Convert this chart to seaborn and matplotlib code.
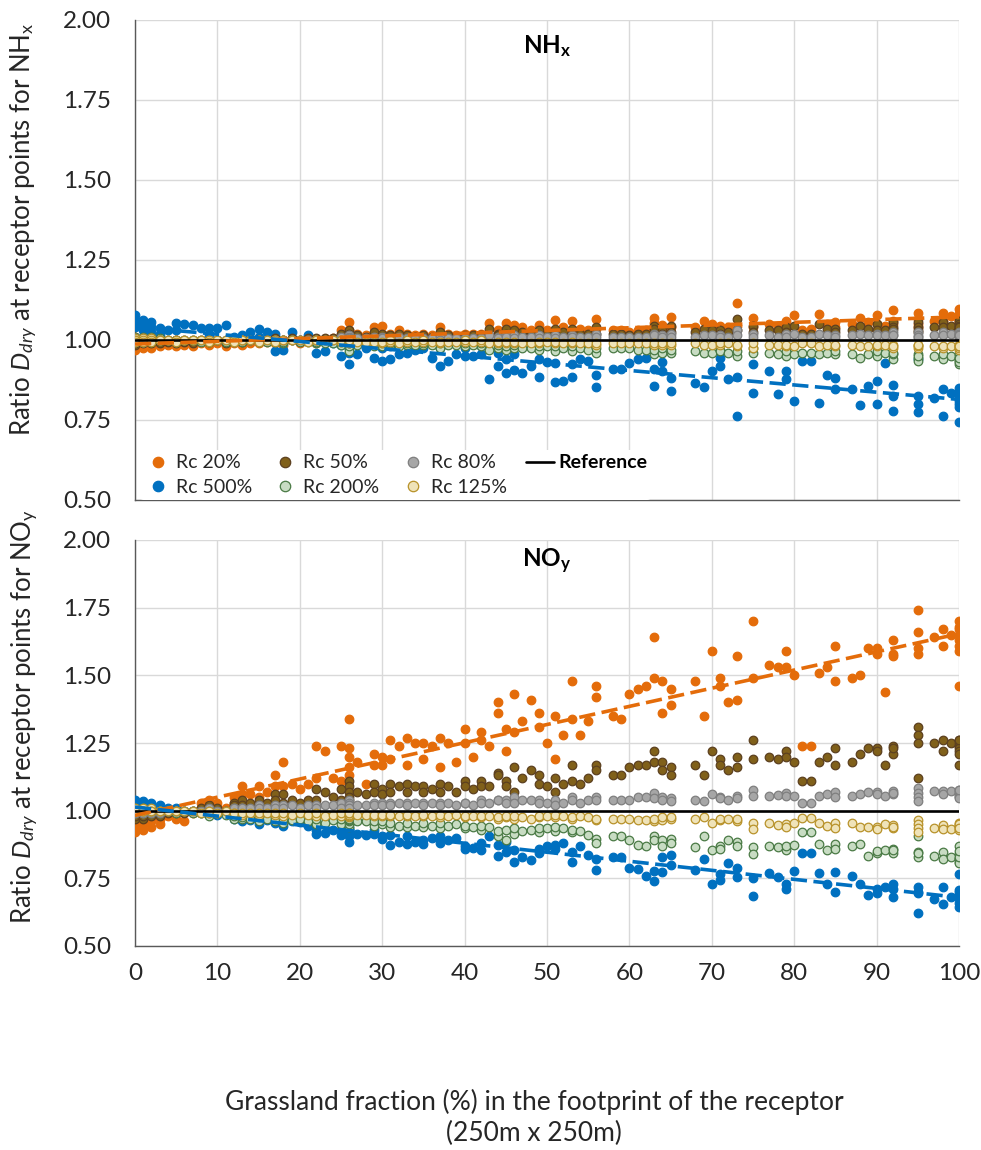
"""Dry deposition ratio vs grassland fraction, NHx and NOy panels."""

import matplotlib
matplotlib.use("Agg")
import matplotlib.pyplot as plt
from matplotlib.lines import Line2D
from matplotlib.ticker import FormatStrFormatter
import numpy as np
import pandas as pd
import seaborn as sns

# ---------------------------------------------------------------------------
# Data: one entry per receptor point
# ---------------------------------------------------------------------------

grass_pct = [
    0, 0, 0, 0, 1, 1, 1, 2, 2, 2,
    3, 3, 4, 5, 5, 6, 7, 8, 9, 9,
    10, 11, 12, 12, 13, 13, 14, 15, 15, 16,
    17, 17, 18, 18, 19, 20, 21, 22, 22, 23,
    24, 25, 25, 26, 26, 26, 26, 26, 27, 28,
    29, 29, 30, 30, 31, 31, 32, 33, 33, 34,
    35, 35, 36, 37, 37, 38, 39, 40, 40, 41,
    42, 42, 43, 44, 44, 45, 45, 46, 46, 47,
    48, 49, 49, 50, 51, 51, 52, 53, 53, 54,
    55, 56, 56, 58, 59, 60, 61, 62, 63, 63,
    64, 64, 65, 65, 68, 69, 70, 71, 71, 72,
    73, 73, 75, 75, 77, 78, 79, 79, 80, 81,
    82, 83, 84, 85, 85, 87, 88, 89, 90, 90,
    91, 92, 92, 95, 95, 95, 97, 98, 98, 99,
    100, 100, 100, 100, 100, 100, 100, 100, 95, 92,
]

# NHx
nhx_rc20 = [
    0.97, 0.98, 0.99, 1.00, 0.975, 0.985, 1.00, 0.975, 0.99, 1.00,
    0.98, 0.99, 0.985, 0.98, 0.99, 0.985, 0.98, 0.99, 0.985, 0.995,
    0.99, 0.98, 1.00, 0.99, 1.00, 0.985, 0.99, 1.00, 0.99, 0.995,
    0.99, 1.00, 0.985, 0.995, 1.00, 0.99, 1.00, 1.00, 0.99, 1.00,
    1.005, 1.03, 1.00, 1.057, 1.03, 1.01, 1.00, 1.02, 1.02, 1.015,
    1.04, 1.01, 1.044, 1.02, 1.02, 1.00, 1.03, 1.02, 1.01, 1.015,
    1.02, 1.005, 1.015, 1.04, 1.01, 1.02, 1.015, 1.02, 1.01, 1.02,
    1.02, 1.01, 1.054, 1.03, 1.02, 1.054, 1.03, 1.046, 1.02, 1.04,
    1.03, 1.046, 1.025, 1.03, 1.062, 1.03, 1.04, 1.06, 1.03, 1.035,
    1.03, 1.067, 1.035, 1.03, 1.03, 1.025, 1.03, 1.03, 1.07, 1.054,
    1.046, 1.03, 1.073, 1.04, 1.04, 1.06, 1.05, 1.045, 1.035, 1.04,
    1.115, 1.045, 1.07, 1.04, 1.05, 1.045, 1.06, 1.04, 1.077, 1.03,
    1.035, 1.08, 1.05, 1.056, 1.04, 1.05, 1.07, 1.055, 1.077, 1.05,
    1.045, 1.094, 1.06, 1.085, 1.065, 1.05, 1.06, 1.085, 1.06, 1.075,
    1.096, 1.08, 1.07, 1.06, 1.055, 1.05, 1.045, 1.065, 1.04, 1.05,
]
nhx_rc50 = [
    0.985, 0.99, 1.00, 1.01, 0.99, 1.00, 1.005, 0.99, 1.00, 1.005,
    0.99, 1.00, 0.995, 0.99, 1.00, 0.995, 0.99, 1.00, 0.995, 1.00,
    1.00, 0.99, 1.00, 1.00, 1.00, 0.995, 1.00, 1.00, 1.00, 1.00,
    1.00, 1.005, 0.995, 1.00, 1.005, 1.00, 1.005, 1.005, 1.00, 1.005,
    1.005, 1.02, 1.00, 1.03, 1.02, 1.01, 1.00, 1.01, 1.015, 1.01,
    1.025, 1.005, 1.02, 1.01, 1.015, 1.005, 1.02, 1.015, 1.005, 1.01,
    1.015, 1.005, 1.01, 1.025, 1.005, 1.015, 1.01, 1.015, 1.005, 1.015,
    1.015, 1.005, 1.035, 1.02, 1.015, 1.035, 1.02, 1.03, 1.015, 1.025,
    1.02, 1.03, 1.015, 1.02, 1.035, 1.02, 1.025, 1.035, 1.02, 1.02,
    1.02, 1.04, 1.02, 1.02, 1.02, 1.015, 1.02, 1.02, 1.045, 1.035,
    1.03, 1.02, 1.045, 1.025, 1.025, 1.035, 1.03, 1.03, 1.02, 1.025,
    1.065, 1.03, 1.045, 1.025, 1.03, 1.03, 1.04, 1.025, 1.045, 1.02,
    1.02, 1.05, 1.035, 1.035, 1.025, 1.03, 1.045, 1.035, 1.05, 1.03,
    1.03, 1.055, 1.04, 1.055, 1.04, 1.03, 1.04, 1.055, 1.04, 1.045,
    1.06, 1.05, 1.045, 1.04, 1.035, 1.03, 1.03, 1.04, 1.025, 1.035,
]
nhx_rc80 = [
    0.995, 1.00, 1.00, 1.005, 0.995, 1.00, 1.005, 1.00, 1.00, 1.005,
    1.00, 1.00, 1.00, 1.00, 1.00, 1.00, 1.00, 1.00, 1.00, 1.00,
    1.00, 1.00, 1.00, 1.00, 1.00, 1.00, 1.00, 1.00, 1.00, 1.00,
    1.00, 1.00, 1.00, 1.00, 1.00, 1.00, 1.00, 1.00, 1.00, 1.00,
    1.00, 1.01, 1.00, 1.015, 1.01, 1.005, 1.00, 1.005, 1.005, 1.005,
    1.01, 1.00, 1.01, 1.005, 1.005, 1.00, 1.01, 1.005, 1.00, 1.005,
    1.005, 1.00, 1.005, 1.01, 1.00, 1.005, 1.005, 1.005, 1.00, 1.005,
    1.005, 1.00, 1.015, 1.01, 1.005, 1.015, 1.01, 1.015, 1.005, 1.01,
    1.01, 1.015, 1.005, 1.01, 1.015, 1.005, 1.01, 1.015, 1.01, 1.01,
    1.01, 1.02, 1.01, 1.01, 1.01, 1.01, 1.01, 1.01, 1.02, 1.015,
    1.015, 1.01, 1.02, 1.01, 1.01, 1.015, 1.015, 1.015, 1.01, 1.01,
    1.03, 1.015, 1.02, 1.01, 1.015, 1.01, 1.02, 1.01, 1.02, 1.01,
    1.01, 1.02, 1.015, 1.015, 1.01, 1.015, 1.02, 1.015, 1.02, 1.015,
    1.015, 1.025, 1.015, 1.025, 1.015, 1.01, 1.015, 1.025, 1.015, 1.02,
    1.025, 1.02, 1.02, 1.015, 1.015, 1.01, 1.01, 1.015, 1.01, 1.015,
]
nhx_rc125 = [
    1.005, 1.00, 1.00, 0.995, 1.005, 1.00, 0.995, 1.005, 1.00, 0.995,
    1.00, 1.00, 1.00, 1.00, 0.995, 1.00, 1.00, 1.00, 1.00, 0.995,
    1.00, 1.00, 1.00, 0.995, 1.00, 1.00, 1.00, 1.00, 0.995, 1.00,
    1.00, 0.995, 1.00, 1.00, 1.00, 1.00, 0.995, 1.00, 1.00, 1.00,
    1.00, 0.995, 1.00, 0.99, 0.995, 1.00, 1.00, 1.00, 0.995, 0.995,
    0.99, 0.995, 0.99, 0.995, 0.995, 1.00, 0.99, 0.995, 1.00, 0.995,
    0.995, 1.00, 0.995, 0.99, 0.995, 0.995, 0.995, 0.995, 1.00, 0.995,
    0.995, 1.00, 0.99, 0.99, 0.995, 0.99, 0.995, 0.99, 0.995, 0.99,
    0.99, 0.99, 0.995, 0.995, 0.99, 0.995, 0.99, 0.99, 0.995, 0.99,
    0.99, 0.985, 0.99, 0.99, 0.99, 0.99, 0.99, 0.99, 0.985, 0.99,
    0.985, 0.99, 0.985, 0.99, 0.99, 0.985, 0.985, 0.985, 0.99, 0.99,
    0.98, 0.985, 0.975, 0.99, 0.985, 0.985, 0.98, 0.985, 0.98, 0.99,
    0.99, 0.98, 0.985, 0.98, 0.985, 0.985, 0.98, 0.98, 0.98, 0.985,
    0.985, 0.975, 0.985, 0.975, 0.98, 0.985, 0.98, 0.975, 0.98, 0.98,
    0.975, 0.97, 0.975, 0.98, 0.98, 0.985, 0.985, 0.98, 0.985, 0.98,
]
nhx_rc200 = [
    1.01, 1.005, 1.00, 0.995, 1.01, 1.00, 0.995, 1.01, 1.00, 0.995,
    1.005, 1.00, 1.00, 1.00, 0.995, 1.00, 1.00, 0.995, 1.00, 0.995,
    1.00, 0.995, 1.00, 0.995, 1.00, 0.995, 1.00, 0.995, 1.00, 0.995,
    0.995, 1.00, 0.99, 0.995, 1.00, 0.995, 0.995, 0.99, 0.995, 0.99,
    0.99, 0.985, 0.995, 0.965, 0.98, 0.99, 0.995, 0.99, 0.985, 0.99,
    0.98, 0.99, 0.98, 0.99, 0.985, 0.99, 0.98, 0.985, 0.99, 0.985,
    0.985, 0.99, 0.985, 0.975, 0.99, 0.985, 0.985, 0.98, 0.99, 0.985,
    0.98, 0.99, 0.97, 0.975, 0.985, 0.97, 0.98, 0.975, 0.985, 0.975,
    0.975, 0.97, 0.98, 0.98, 0.965, 0.98, 0.975, 0.965, 0.98, 0.975,
    0.97, 0.96, 0.975, 0.975, 0.975, 0.975, 0.97, 0.97, 0.955, 0.97,
    0.96, 0.975, 0.96, 0.97, 0.965, 0.96, 0.96, 0.97, 0.965, 0.96,
    0.95, 0.965, 0.96, 0.975, 0.96, 0.955, 0.95, 0.965, 0.955, 0.96,
    0.96, 0.955, 0.96, 0.955, 0.965, 0.955, 0.945, 0.955, 0.95, 0.965,
    0.96, 0.94, 0.955, 0.945, 0.935, 0.955, 0.95, 0.94, 0.955, 0.95,
    0.945, 0.935, 0.925, 0.94, 0.95, 0.955, 0.93, 0.945, 0.95, 0.96,
]
nhx_rc500 = [
    1.077, 1.062, 1.052, 1.041, 1.062, 1.046, 1.03, 1.057, 1.041, 1.025,
    1.036, 1.02, 1.03, 1.052, 1.031, 1.05, 1.046, 1.036, 1.036, 1.02,
    1.036, 1.048, 1.01, 1.00, 1.015, 1.00, 1.026, 1.033, 1.01, 1.026,
    1.02, 0.966, 0.97, 1.00, 1.026, 1.00, 1.015, 0.96, 1.00, 0.965,
    0.99, 0.95, 0.985, 0.925, 0.96, 0.975, 0.99, 1.00, 0.955, 0.975,
    0.945, 0.985, 0.935, 0.975, 0.94, 0.98, 0.955, 0.96, 0.985, 0.97,
    0.975, 0.99, 0.945, 0.92, 0.975, 0.935, 0.955, 0.95, 0.975, 0.95,
    0.955, 0.98, 0.878, 0.92, 0.96, 0.897, 0.94, 0.905, 0.955, 0.897,
    0.92, 0.885, 0.94, 0.93, 0.929, 0.868, 0.872, 0.924, 0.885, 0.94,
    0.935, 0.89, 0.853, 0.908, 0.908, 0.927, 0.94, 0.945, 0.908, 0.855,
    0.93, 0.903, 0.882, 0.842, 0.867, 0.854, 0.903, 0.945, 0.919, 0.877,
    0.883, 0.763, 0.924, 0.835, 0.903, 0.83, 0.903, 0.877, 0.81, 0.935,
    0.935, 0.804, 0.89, 0.847, 0.88, 0.847, 0.797, 0.856, 0.872, 0.80,
    0.929, 0.86, 0.778, 0.826, 0.80, 0.774, 0.818, 0.847, 0.763, 0.835,
    0.842, 0.82, 0.80, 0.744, 0.81, 0.83, 0.85, 0.79, 0.94, 0.826,
]

# NOy
noy_rc20 = [
    0.92, 0.94, 0.96, 0.98, 0.93, 0.95, 0.97, 0.94, 0.96, 0.98,
    0.95, 0.97, 0.98, 0.97, 0.99, 0.96, 0.99, 1.03, 1.04, 1.02,
    1.03, 1.01, 1.05, 1.03, 1.09, 1.06, 1.06, 1.09, 1.05, 1.07,
    1.13, 1.09, 1.18, 1.09, 1.10, 1.08, 1.10, 1.24, 1.12, 1.22,
    1.12, 1.24, 1.11, 1.34, 1.23, 1.20, 1.16, 1.13, 1.18, 1.10,
    1.21, 1.17, 1.20, 1.17, 1.26, 1.19, 1.24, 1.27, 1.17, 1.25,
    1.25, 1.19, 1.24, 1.27, 1.16, 1.25, 1.18, 1.30, 1.25, 1.20,
    1.29, 1.26, 1.24, 1.40, 1.36, 1.30, 1.22, 1.43, 1.29, 1.33,
    1.41, 1.36, 1.31, 1.25, 1.35, 1.19, 1.28, 1.48, 1.34, 1.28,
    1.33, 1.46, 1.42, 1.35, 1.34, 1.43, 1.45, 1.46, 1.64, 1.49,
    1.48, 1.36, 1.45, 1.39, 1.48, 1.35, 1.59, 1.49, 1.46, 1.40,
    1.57, 1.41, 1.70, 1.49, 1.54, 1.53, 1.59, 1.53, 1.50, 1.24,
    1.24, 1.51, 1.53, 1.61, 1.48, 1.49, 1.50, 1.60, 1.60, 1.58,
    1.44, 1.63, 1.57, 1.74, 1.66, 1.60, 1.64, 1.67, 1.61, 1.65,
    1.70, 1.68, 1.67, 1.65, 1.63, 1.61, 1.59, 1.46, 1.58, 1.58,
]
noy_rc50 = [
    0.97, 0.98, 0.99, 0.99, 0.97, 0.98, 0.99, 0.98, 0.99, 1.00,
    0.98, 0.99, 0.99, 0.99, 1.00, 0.99, 1.00, 1.01, 1.02, 1.01,
    1.01, 1.00, 1.03, 1.02, 1.04, 1.02, 1.03, 1.04, 1.02, 1.03,
    1.06, 1.04, 1.06, 1.03, 1.04, 1.03, 1.04, 1.08, 1.04, 1.07,
    1.05, 1.08, 1.04, 1.11, 1.09, 1.07, 1.05, 1.04, 1.07, 1.06,
    1.10, 1.07, 1.08, 1.06, 1.10, 1.07, 1.09, 1.10, 1.07, 1.09,
    1.09, 1.07, 1.08, 1.10, 1.07, 1.09, 1.07, 1.11, 1.09, 1.08,
    1.11, 1.09, 1.09, 1.14, 1.13, 1.11, 1.09, 1.16, 1.07, 1.12,
    1.15, 1.13, 1.10, 1.09, 1.12, 1.07, 1.10, 1.17, 1.11, 1.10,
    1.12, 1.17, 1.15, 1.13, 1.13, 1.16, 1.17, 1.17, 1.22, 1.18,
    1.18, 1.15, 1.16, 1.13, 1.17, 1.13, 1.22, 1.19, 1.17, 1.15,
    1.20, 1.16, 1.26, 1.19, 1.20, 1.19, 1.22, 1.20, 1.18, 1.11,
    1.11, 1.18, 1.20, 1.23, 1.17, 1.18, 1.21, 1.23, 1.23, 1.22,
    1.17, 1.24, 1.21, 1.31, 1.28, 1.25, 1.25, 1.26, 1.22, 1.25,
    1.26, 1.25, 1.24, 1.23, 1.22, 1.21, 1.17, 1.26, 1.12, 1.23,
]
noy_rc80 = [
    0.99, 0.99, 1.00, 1.00, 0.99, 0.99, 1.00, 0.99, 1.00, 1.00,
    0.99, 1.00, 1.00, 1.00, 1.00, 1.00, 1.00, 1.00, 1.01, 1.00,
    1.00, 1.00, 1.01, 1.01, 1.01, 1.01, 1.01, 1.02, 1.01, 1.01,
    1.02, 1.01, 1.02, 1.01, 1.02, 1.01, 1.02, 1.02, 1.01, 1.02,
    1.02, 1.03, 1.01, 1.04, 1.03, 1.02, 1.02, 1.01, 1.02, 1.02,
    1.03, 1.02, 1.03, 1.02, 1.03, 1.02, 1.03, 1.03, 1.02, 1.03,
    1.03, 1.02, 1.03, 1.03, 1.02, 1.03, 1.02, 1.03, 1.03, 1.02,
    1.04, 1.03, 1.03, 1.04, 1.04, 1.04, 1.03, 1.05, 1.03, 1.04,
    1.04, 1.04, 1.03, 1.03, 1.04, 1.02, 1.03, 1.05, 1.04, 1.03,
    1.04, 1.05, 1.04, 1.04, 1.04, 1.04, 1.05, 1.05, 1.065, 1.045,
    1.05, 1.04, 1.045, 1.035, 1.04, 1.035, 1.06, 1.05, 1.045, 1.04,
    1.055, 1.045, 1.075, 1.055, 1.055, 1.057, 1.065, 1.055, 1.053, 1.03,
    1.03, 1.053, 1.06, 1.07, 1.052, 1.053, 1.062, 1.07, 1.068, 1.062,
    1.053, 1.072, 1.062, 1.083, 1.065, 1.05, 1.072, 1.072, 1.06, 1.072,
    1.078, 1.072, 1.065, 1.06, 1.055, 1.05, 1.045, 1.075, 1.037, 1.066,
]
noy_rc125 = [
    1.01, 1.00, 1.00, 1.00, 1.01, 1.00, 1.00, 1.01, 1.00, 1.00,
    1.00, 1.00, 1.00, 1.00, 1.00, 1.00, 1.00, 0.99, 0.99, 1.00,
    0.99, 1.00, 0.99, 0.99, 0.985, 0.99, 0.99, 0.985, 0.99, 0.99,
    0.985, 0.99, 0.98, 0.99, 0.985, 0.99, 0.985, 0.98, 0.99, 0.98,
    0.985, 0.98, 0.99, 0.975, 0.98, 0.985, 0.99, 0.99, 0.985, 0.985,
    0.98, 0.985, 0.98, 0.985, 0.98, 0.985, 0.98, 0.98, 0.985, 0.98,
    0.98, 0.985, 0.98, 0.975, 0.985, 0.98, 0.985, 0.975, 0.98, 0.98,
    0.975, 0.98, 0.98, 0.97, 0.975, 0.975, 0.98, 0.97, 0.98, 0.975,
    0.97, 0.975, 0.98, 0.98, 0.975, 0.985, 0.98, 0.97, 0.975, 0.98,
    0.975, 0.965, 0.97, 0.97, 0.97, 0.97, 0.965, 0.965, 0.96, 0.97,
    0.965, 0.975, 0.97, 0.975, 0.97, 0.975, 0.955, 0.965, 0.97, 0.97,
    0.962, 0.97, 0.953, 0.934, 0.953, 0.948, 0.951, 0.938, 0.953, 0.972,
    0.972, 0.953, 0.943, 0.953, 0.936, 0.953, 0.941, 0.938, 0.94, 0.934,
    0.951, 0.946, 0.936, 0.967, 0.951, 0.936, 0.936, 0.946, 0.934, 0.934,
    0.956, 0.946, 0.934, 0.94, 0.93, 0.945, 0.95, 0.935, 0.92, 0.94,
]
noy_rc200 = [
    1.00, 1.00, 1.01, 0.99, 1.00, 1.01, 0.99, 1.00, 1.00, 0.99,
    1.00, 0.99, 1.00, 1.00, 0.99, 1.00, 0.99, 0.99, 0.98, 0.99,
    0.99, 0.985, 0.97, 0.98, 0.97, 0.975, 0.97, 0.96, 0.975, 0.97,
    0.96, 0.97, 0.955, 0.97, 0.965, 0.97, 0.96, 0.95, 0.97, 0.955,
    0.965, 0.95, 0.97, 0.94, 0.95, 0.96, 0.965, 0.97, 0.96, 0.96,
    0.945, 0.96, 0.95, 0.96, 0.94, 0.955, 0.945, 0.94, 0.955, 0.945,
    0.94, 0.955, 0.945, 0.935, 0.955, 0.945, 0.95, 0.935, 0.945, 0.94,
    0.93, 0.945, 0.94, 0.905, 0.925, 0.89, 0.93, 0.915, 0.935, 0.925,
    0.93, 0.92, 0.935, 0.935, 0.925, 0.94, 0.935, 0.92, 0.93, 0.925,
    0.91, 0.895, 0.88, 0.905, 0.905, 0.89, 0.875, 0.87, 0.905, 0.89,
    0.89, 0.87, 0.895, 0.88, 0.865, 0.905, 0.855, 0.87, 0.86, 0.89,
    0.885, 0.87, 0.864, 0.84, 0.87, 0.864, 0.853, 0.87, 0.874, 0.92,
    0.92, 0.878, 0.853, 0.876, 0.86, 0.87, 0.876, 0.833, 0.843, 0.85,
    0.853, 0.843, 0.86, 0.905, 0.848, 0.83, 0.833, 0.848, 0.82, 0.83,
    0.87, 0.84, 0.825, 0.82, 0.81, 0.805, 0.83, 0.85, 0.845, 0.855,
]
noy_rc500 = [
    1.04, 1.03, 1.02, 1.01, 1.035, 1.02, 1.01, 1.03, 1.02, 1.01,
    1.02, 1.01, 1.01, 1.00, 1.01, 1.00, 1.00, 0.99, 0.99, 1.00,
    0.985, 0.99, 0.97, 0.98, 0.963, 0.975, 0.967, 0.95, 0.97, 0.965,
    0.955, 0.965, 0.945, 0.96, 0.963, 0.957, 0.945, 0.915, 0.93, 0.918,
    0.93, 0.91, 0.93, 0.885, 0.905, 0.92, 0.935, 0.95, 0.914, 0.91,
    0.914, 0.93, 0.908, 0.897, 0.873, 0.91, 0.885, 0.878, 0.905, 0.885,
    0.89, 0.878, 0.90, 0.88, 0.905, 0.89, 0.90, 0.858, 0.868, 0.862,
    0.853, 0.88, 0.905, 0.832, 0.873, 0.848, 0.884, 0.81, 0.853, 0.83,
    0.816, 0.843, 0.857, 0.87, 0.875, 0.86, 0.88, 0.847, 0.81, 0.87,
    0.835, 0.82, 0.78, 0.83, 0.83, 0.79, 0.785, 0.76, 0.777, 0.74,
    0.83, 0.775, 0.835, 0.80, 0.78, 0.82, 0.73, 0.767, 0.745, 0.805,
    0.79, 0.755, 0.75, 0.684, 0.77, 0.755, 0.73, 0.71, 0.777, 0.845,
    0.843, 0.77, 0.728, 0.773, 0.70, 0.76, 0.728, 0.69, 0.712, 0.694,
    0.718, 0.712, 0.68, 0.718, 0.694, 0.623, 0.675, 0.718, 0.654, 0.68,
    0.767, 0.706, 0.688, 0.676, 0.645, 0.66, 0.70, 0.69, 0.70, 0.73,
]

REF_RATIO = 1.0

# label, face colour, edge colour (drawing / legend order)
SERIES = [
    ("Rc 20%", "#E46C0A", "#E46C0A"),
    ("Rc 500%", "#0070C0", "#0070C0"),
    ("Rc 50%", "#80601A", "#5C4020"),
    ("Rc 200%", "#C8DCC3", "#4A7A45"),
    ("Rc 80%", "#A6A6A6", "#7F7F7F"),
    ("Rc 125%", "#EFE3B9", "#B8922A"),
]

sns.set_theme(style="white")
plt.rcParams.update({
    "font.family": ["Lato", "DejaVu Sans"],
    "mathtext.fontset": "custom",
    "mathtext.rm": "Lato",
    "mathtext.it": "Lato:italic",
    "mathtext.bf": "Lato:bold",
})

TEXT_COLOR = "#262626"


def draw_panel(ax, values, ylabel, title):
    df = pd.DataFrame({"grass": grass_pct, **values})
    for label, face, edge in SERIES:
        sns.scatterplot(data=df, x="grass", y=label, ax=ax, color=face,
                        edgecolor=edge, linewidth=0.9, s=38, zorder=3)
    ax.axhline(REF_RATIO, color="black", lw=1.9, zorder=4)
    # linear trend lines for the two extreme scenarios
    for label, face, _ in SERIES[:2]:
        sns.regplot(data=df, x="grass", y=label, ax=ax, scatter=False, ci=None,
                    color=face, line_kws={"ls": (0, (4.5, 1.8)), "lw": 2.6, "zorder": 5})

    ax.set_xlim(0, 100)
    ax.set_ylim(0.5, 2.0)
    ax.set_xticks(np.arange(0, 101, 10))
    ax.set_yticks(np.arange(0.5, 2.01, 0.25))
    ax.yaxis.set_major_formatter(FormatStrFormatter("%.2f"))
    ax.grid(True, color="#D9D9D9", lw=1.0)
    ax.set_axisbelow(True)
    for side in ("top", "right"):
        ax.spines[side].set_visible(False)
    for side in ("left", "bottom"):
        ax.spines[side].set_color("#595959")
        ax.spines[side].set_linewidth(1.0)
    ax.tick_params(length=0, labelsize=17.5, colors=TEXT_COLOR)
    ax.tick_params(axis="y", pad=17)
    ax.tick_params(axis="x", pad=12)
    ax.set_xlabel("")
    ax.set_ylabel(ylabel, fontsize=18.5, color=TEXT_COLOR)
    ax.yaxis.set_label_coords(-0.115, 0.565)
    ax.text(50, 1.92, title, ha="center", va="center", fontsize=17.5, color="black")


fig = plt.figure(figsize=(9.81, 11.5), dpi=100)
ax_top = fig.add_axes([135 / 981, 1 - 500 / 1150, 824 / 981, 480 / 1150])
ax_bot = fig.add_axes([135 / 981, 1 - 946 / 1150, 824 / 981, 406 / 1150])

draw_panel(ax_top,
           {"Rc 20%": nhx_rc20, "Rc 500%": nhx_rc500, "Rc 50%": nhx_rc50,
            "Rc 200%": nhx_rc200, "Rc 80%": nhx_rc80, "Rc 125%": nhx_rc125},
           r"Ratio $D_{dry}$ at receptor points for NH$_\mathrm{x}$",
           r"$\mathbf{NH_x}$")
draw_panel(ax_bot,
           {"Rc 20%": noy_rc20, "Rc 500%": noy_rc500, "Rc 50%": noy_rc50,
            "Rc 200%": noy_rc200, "Rc 80%": noy_rc80, "Rc 125%": noy_rc125},
           r"Ratio $D_{dry}$ at receptor points for NO$_\mathrm{y}$",
           r"$\mathbf{NO_y}$")

ax_top.tick_params(axis="x", labelbottom=False)
ax_bot.set_xlabel("Grassland fraction (%) in the footprint of the receptor\n(250m x 250m)",
                  fontsize=19, color=TEXT_COLOR, linespacing=1.3)
ax_bot.xaxis.set_label_coords(0.484, -0.352)

handles = [Line2D([], [], ls="none", marker="o", ms=7.5, mfc=face, mec=edge,
                  mew=0.9, label=label) for label, face, edge in SERIES]
handles.append(Line2D([], [], color="black", lw=1.9, label="Reference"))
leg = ax_top.legend(handles=handles, ncol=4, loc="lower left",
                    bbox_to_anchor=(0.006, 0.0), frameon=True, framealpha=1.0,
                    edgecolor="none", facecolor="white", fontsize=14,
                    handlelength=1.44, handletextpad=0.2, columnspacing=1.0,
                    borderaxespad=0.0, borderpad=0.2, labelspacing=0.4)
leg.set_zorder(6)
for txt in leg.get_texts():
    txt.set_color(TEXT_COLOR)
leg.get_texts()[-1].set_fontweight("bold")
leg.get_texts()[-1].set_color("black")

fig.savefig("out.png", dpi=100)
